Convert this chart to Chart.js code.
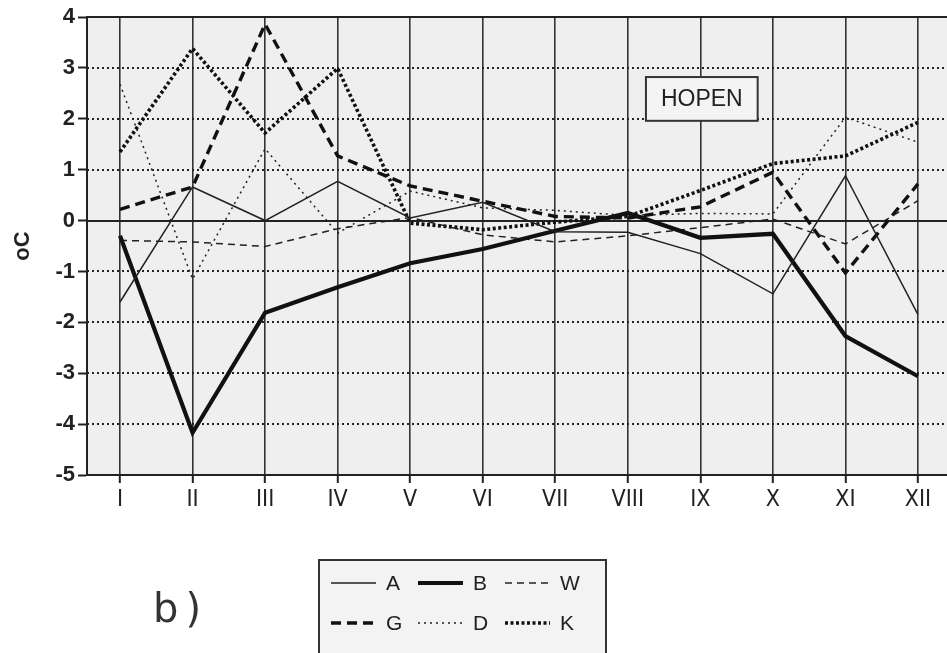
<!DOCTYPE html>
<html><head><meta charset="utf-8">
<script src="https://cdn.jsdelivr.net/npm/chart.js@4.4.1/dist/chart.umd.min.js"></script>
<style>html,body{margin:0;padding:0;background:#fff;overflow:hidden}#wrap{width:947px;height:653px;position:relative}</style>
</head><body><div id="wrap"><canvas id="c" width="947" height="653"></canvas></div>
<script>
const months = ['I','II','III','IV','V','VI','VII','VIII','IX','X','XI','XII'];
const yTicks = [4,3,2,1,0,-1,-2,-3,-4,-5];
const seriesA = [-1.6, 0.66, 0.0, 0.77, 0.05, 0.36, -0.22, -0.23, -0.65, -1.44, 0.88, -1.85];
const seriesB = [-0.3, -4.17, -1.81, -1.31, -0.84, -0.56, -0.2, 0.15, -0.34, -0.26, -2.27, -3.06];
const seriesW = [-0.39, -0.42, -0.51, -0.16, 0.06, -0.28, -0.42, -0.3, -0.14, 0.03, -0.46, 0.39];
const seriesG = [0.22, 0.66, 3.86, 1.27, 0.68, 0.38, 0.08, 0.05, 0.27, 0.95, -1.03, 0.72];
const seriesD = [2.68, -1.15, 1.41, -0.25, 0.58, 0.25, 0.2, 0.1, 0.14, 0.13, 2.03, 1.54];
const seriesK = [1.35, 3.38, 1.72, 2.99, -0.05, -0.18, -0.03, 0.08, 0.59, 1.12, 1.27, 1.93];
const seriesNames = ['A','B','W','G','D','K'];
const stationName = 'HOPEN';
const panelLabel = 'b)';
const yTitle = 'oC';

const toPts = arr => arr.map((v,i)=>({x:i,y:v}));
const styles = [
  {w:1.5, dash:[], c:'#222'},
  {w:4.2, dash:[], c:'#111'},
  {w:1.5, dash:[7,5], c:'#222'},
  {w:3.4, dash:[10,6], c:'#111'},
  {w:1.5, dash:[2,4], c:'#222'},
  {w:3.6, dash:[3,2.5], c:'#111'}
];
const allSeries = [seriesA, seriesB, seriesW, seriesG, seriesD, seriesK];
const datasets = allSeries.map((s,i)=>({
  label: seriesNames[i], data: toPts(s),
  borderColor: styles[i].c, borderWidth: styles[i].w, borderDash: styles[i].dash,
  pointRadius: 0, tension: 0, fill:false, borderJoinStyle:'miter', borderCapStyle:'butt'
}));

const FONT = "'Liberation Sans', Arial, sans-serif";
const NARROW = "'Liberation Sans Narrow', 'DejaVu Sans Condensed', sans-serif";

const decor = {
  id:'decor',
  beforeDraw(chart){
    const {ctx, chartArea:a} = chart;
    ctx.save();
    ctx.fillStyle='#fff'; ctx.fillRect(0,0,chart.width,chart.height);
    ctx.fillStyle='#efefef'; ctx.fillRect(a.left,a.top,a.right-a.left,a.bottom-a.top);
    ctx.restore();
  },
  beforeDatasetsDraw(chart){
    const {ctx, chartArea:a, scales:{y}} = chart;
    ctx.save();
    yTicks.forEach(v=>{
      if (v === yTicks[yTicks.length-1]) return;
      const py = Math.round(y.getPixelForValue(v));
      ctx.beginPath();
      if (v===0 || v===yTicks[0]) { ctx.setLineDash([]); ctx.lineWidth=2; ctx.strokeStyle='#222'; }
      else { ctx.setLineDash([2,3]); ctx.lineWidth=1.8; ctx.strokeStyle='#222'; }
      ctx.moveTo(a.left,py); ctx.lineTo(a.right,py); ctx.stroke();
    });
    ctx.restore();
  },
  afterDatasetsDraw(chart){
    const {ctx, scales:{x,y}} = chart;
    const l = x.getPixelForValue(7.25), r = x.getPixelForValue(8.79);
    const t = y.getPixelForValue(2.82), b = y.getPixelForValue(1.96);
    ctx.save();
    ctx.fillStyle='#f4f4f4'; ctx.fillRect(l,t,r-l,b-t);
    ctx.lineWidth=2; ctx.strokeStyle='#333'; ctx.strokeRect(l,t,r-l,b-t);
    ctx.fillStyle='#222'; ctx.font='23px '+FONT; ctx.textAlign='center'; ctx.textBaseline='middle';
    ctx.fillText(stationName,(l+r)/2,(t+b)/2+1);
    ctx.restore();
  },
  afterDraw(chart){
    const {ctx} = chart;
    ctx.save();
    ctx.fillStyle='#f3f3f3'; ctx.fillRect(319,560,287,100);
    ctx.lineWidth=2; ctx.strokeStyle='#333'; ctx.strokeRect(319,560,287,100);
    const cols=[331,418,505], rows=[583,623];
    chart.data.datasets.forEach((ds,i)=>{
      const cx = cols[i%3], cy = rows[Math.floor(i/3)];
      ctx.beginPath(); ctx.setLineDash(ds.borderDash); ctx.lineWidth=ds.borderWidth; ctx.strokeStyle=ds.borderColor;
      ctx.moveTo(cx,cy); ctx.lineTo(cx+45,cy); ctx.stroke();
      ctx.setLineDash([]);
      ctx.fillStyle='#222'; ctx.font='21px '+FONT; ctx.textAlign='left'; ctx.textBaseline='middle';
      ctx.fillText(ds.label, cx+55, cy+1);
    });
    ctx.fillStyle='#333'; ctx.font="40px 'DejaVu Sans', sans-serif"; ctx.textAlign='left'; ctx.textBaseline='alphabetic';
    ctx.letterSpacing='7px';
    ctx.fillText(panelLabel,153,622);
    ctx.restore();
  }
};

new Chart(document.getElementById('c'), {
  type:'line',
  data:{ datasets },
  options:{
    responsive:false, animation:false, devicePixelRatio:1,
    layout:{ padding:{top:17,left:0,right:0,bottom:133} },
    plugins:{ legend:{display:false}, tooltip:{enabled:false} },
    scales:{
      x:{
        type:'linear', min:-0.455, max:11.4,
        afterBuildTicks: s => { s.ticks = months.map((m,i)=>({value:i})); },
        ticks:{ callback:(v)=> months[v] ?? '', font:{family:NARROW,size:23}, color:'#222', padding:3, maxRotation:0, autoSkip:false },
        grid:{ color:'#333', lineWidth:1.6, drawTicks:true, tickLength:8, tickColor:'#222', tickWidth:2 },
        border:{ display:true, color:'#222', width:2 },
        afterFit: s => { s.height = 45; }
      },
      y:{
        min:-5, max:4,
        afterBuildTicks: s => { s.ticks = yTicks.map(v=>({value:v})); },
        ticks:{ font:{family:FONT,size:22,weight:'bold'}, color:'#222', padding:3 },
        grid:{ drawOnChartArea:false, drawTicks:true, tickLength:9, tickColor:'#222', tickWidth:2 },
        border:{ display:true, color:'#222', width:2 },
        title:{ display:true, text:yTitle, font:{family:FONT,size:22,weight:'bold'}, color:'#222', padding:{top:10,bottom:0} },
        afterFit: s => { s.width = 87; }
      }
    }
  },
  plugins:[decor]
});
</script></body></html>
